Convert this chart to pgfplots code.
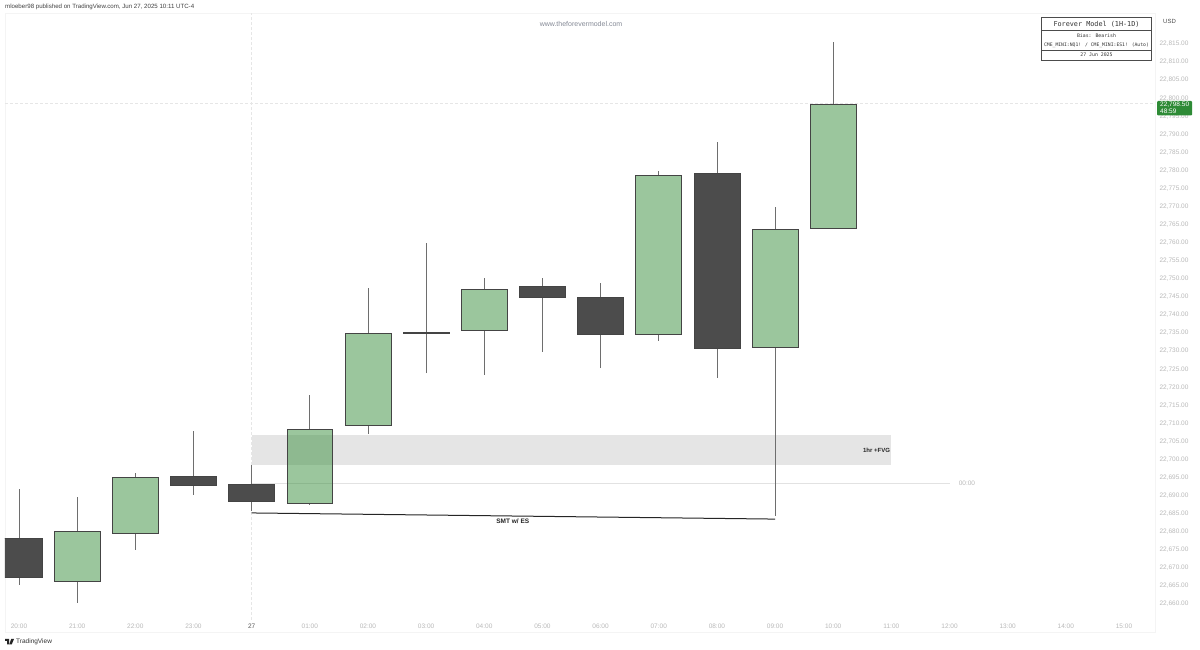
\documentclass[border=0pt]{standalone}
\usepackage{fontspec}
\setmainfont{Liberation Sans}
\newfontfamily\monof{DejaVu Sans Mono}
\usepackage{pgfplots}
\pgfplotsset{compat=1.18}
\definecolor{upc}{HTML}{388E3C}
\definecolor{dnc}{HTML}{4C4C4C}
\definecolor{edgec}{HTML}{444444}
\definecolor{wickc}{HTML}{6E6E6E}
\definecolor{labc}{HTML}{B9B9B9}
\definecolor{frame}{HTML}{F4F4F4}
\definecolor{cross}{HTML}{E6E6E6}
\definecolor{lvl}{HTML}{E2E2E2}
\definecolor{webc}{HTML}{858A96}
\definecolor{tag}{HTML}{2E8B36}
\newcommand{\fs}[1]{\fontsize{#1}{#1}\selectfont}
% position, low, body low, body high, high, body style
\newcommand{\candle}[6]{%
  \pgfmathsetmacro\xl{#1-0.395}\pgfmathsetmacro\xr{#1+0.395}%
  \addplot[wickc,line width=0.6pt] coordinates {(#1,#2) (#1,#3)};
  \addplot[wickc,line width=0.6pt] coordinates {(#1,#4) (#1,#5)};
  \addplot[draw=edgec,line width=0.6pt,#6] coordinates {(\xl,#3) (\xr,#3) (\xr,#4) (\xl,#4)} --cycle;
}
\newcommand{\up}[5]{\candle{#1}{#2}{#3}{#4}{#5}{fill=upc,fill opacity=0.5}}
\newcommand{\dn}[5]{\candle{#1}{#2}{#3}{#4}{#5}{fill=dnc}}
\begin{document}
\begin{tikzpicture}
\path[use as bounding box,fill=white] (0,0) rectangle (1200pt,650pt);
\begin{scope}[x=1pt,y=-1pt,yshift=650pt]
\draw[frame,line width=0.6pt] (5,13) rectangle (1155,632);
\end{scope}
\begin{axis}[
  at={(5pt,30pt)},anchor=south west,
  scale only axis,width=1150pt,height=607pt,
  xmin=-0.2407,xmax=19.533,ymin=22655.57,ymax=22823.58,
  axis line style={draw=none},
  major tick length=0pt,
  xtick={0,1,...,19},
  xticklabels={20:00,21:00,22:00,23:00,\textcolor{black!65}{27},01:00,02:00,03:00,04:00,05:00,06:00,07:00,08:00,09:00,10:00,11:00,12:00,13:00,14:00,15:00},
  x tick label style={font=\fs{6.5},text=labc,anchor=center,yshift=-6pt},
  ytick={22660,22665,22670,22675,22680,22685,22690,22695,22700,22705,22710,22715,22720,22725,22730,22735,22740,22745,22750,22755,22760,22765,22770,22775,22780,22785,22790,22795,22800,22805,22810,22815},
  yticklabel pos=right,
  y tick label style={font=\fs{6.5},text=labc,anchor=west,xshift=1pt,
    /pgf/number format/.cd,fixed,fixed zerofill,precision=2,1000 sep={,},assume math mode=true},
  scaled y ticks=false,
]
% FVG band
\addplot[draw=none,fill=black!10] coordinates {(4,22698.5) (15,22698.5) (15,22706.8) (4,22706.8)} --cycle;
% crosshair and level lines
\addplot[cross,line width=0.5pt,densely dashed] coordinates {(4,22655.57) (4,22823.58)};
\addplot[cross,line width=0.5pt,densely dashed] coordinates {(-0.2407,22798.5) (19.533,22798.5)};
\addplot[lvl,line width=0.5pt] coordinates {(4,22693.5) (16,22693.5)};
% candles: position, low, body low, body high, high
\dn{0}{22665.3}{22667.5}{22678.3}{22691.8}
\up{1}{22660.3}{22666.4}{22680.2}{22689.6}
\up{2}{22675.0}{22679.7}{22695.2}{22696.3}
\dn{3}{22690.2}{22692.9}{22695.4}{22707.9}
\dn{4}{22685.7}{22688.5}{22693.2}{22698.5}
\up{5}{22687.4}{22688.0}{22708.4}{22717.9}
\up{6}{22707.1}{22709.5}{22735.0}{22747.5}
\dn{7}{22723.9}{22735.0}{22735.2}{22759.9}
\up{8}{22723.4}{22735.8}{22747.2}{22750.2}
\dn{9}{22729.8}{22745.0}{22748.0}{22750.2}
\dn{10}{22725.3}{22734.7}{22745.0}{22748.9}
\up{11}{22732.8}{22734.7}{22778.7}{22779.8}
\dn{12}{22722.6}{22730.9}{22779.3}{22787.9}
\up{13}{22684.4}{22731.1}{22763.8}{22769.9}
\up{14}{22764.0}{22764.0}{22798.4}{22815.5}
% SMT line
\addplot[black!85,line width=1pt] coordinates {(4,22685.2) (13,22683.5)};
\node[font=\bfseries\fs{6.5},text=black!85] at (axis cs:8.49,22683) {SMT w/ ES};
\node[font=\bfseries\fs{6},text=black!85,anchor=east,inner sep=0pt] at (axis cs:14.98,22702.6) {1hr +FVG};
\node[font=\fs{6.5},text=labc] at (axis cs:16.3,22693.5) {00:00};
\end{axis}
\begin{scope}[x=1pt,y=-1pt,yshift=650pt]
% header
\node[anchor=west,inner sep=0pt,font=\fs{6.13},text=black!75] at (5,7) {mloeber98 published on TradingView.com, Jun 27, 2025 10:11 UTC-4};
\node[font=\fs{7},text=webc] at (581,24) {www.theforevermodel.com};
\node[anchor=west,inner sep=0pt,font=\fs{6},text=black!70] at (1163,21) {USD};
% table
\fill[white] (1041.5,17.5) rectangle (1151.5,60);
\draw[black!70,line width=0.7pt] (1041.5,17.5) rectangle (1151.5,60);
\draw[black!70,line width=0.6pt] (1041.5,30.5) -- (1151.5,30.5);
\draw[black!70,line width=0.6pt] (1041.5,50) -- (1151.5,50);
\node[font=\monof\fs{6.8},text=black!80] at (1096.5,24) {Forever Model (1H-1D)};
\node[font=\monof\fs{4.85},text=black!80] at (1096.5,35.5) {Bias: Bearish};
\node[font=\monof\fs{4.75},text=black!80] at (1096.5,45) {CME\_MINI:NQ1! / CME\_MINI:ES1! (Auto)};
\node[font=\monof\fs{4.85},text=black!80] at (1096.5,55) {27 Jun 2025};
% price tag
\fill[tag,rounded corners=1pt] (1157,101) rectangle (1192,115.5);
\node[anchor=west,inner sep=0pt,font=\fs{6.5},text=white] at (1160,104.8) {22,798.50};
\node[anchor=west,inner sep=0pt,font=\fs{6.5},text=white] at (1160,111.3) {48:59};
% footer
\fill[black!85] (5,639) -- (9,639) -- (9,644.5) -- (7,644.5) -- (7,641) -- (5,641) -- cycle;
\fill[black!85] (9.2,644.5) -- (11.2,639) -- (14,639) -- (11.7,644.5) -- cycle;
\node[anchor=west,inner sep=0pt,font=\fs{6.5},text=black!80] at (16,642) {TradingView};
\end{scope}
\end{tikzpicture}
\end{document}
